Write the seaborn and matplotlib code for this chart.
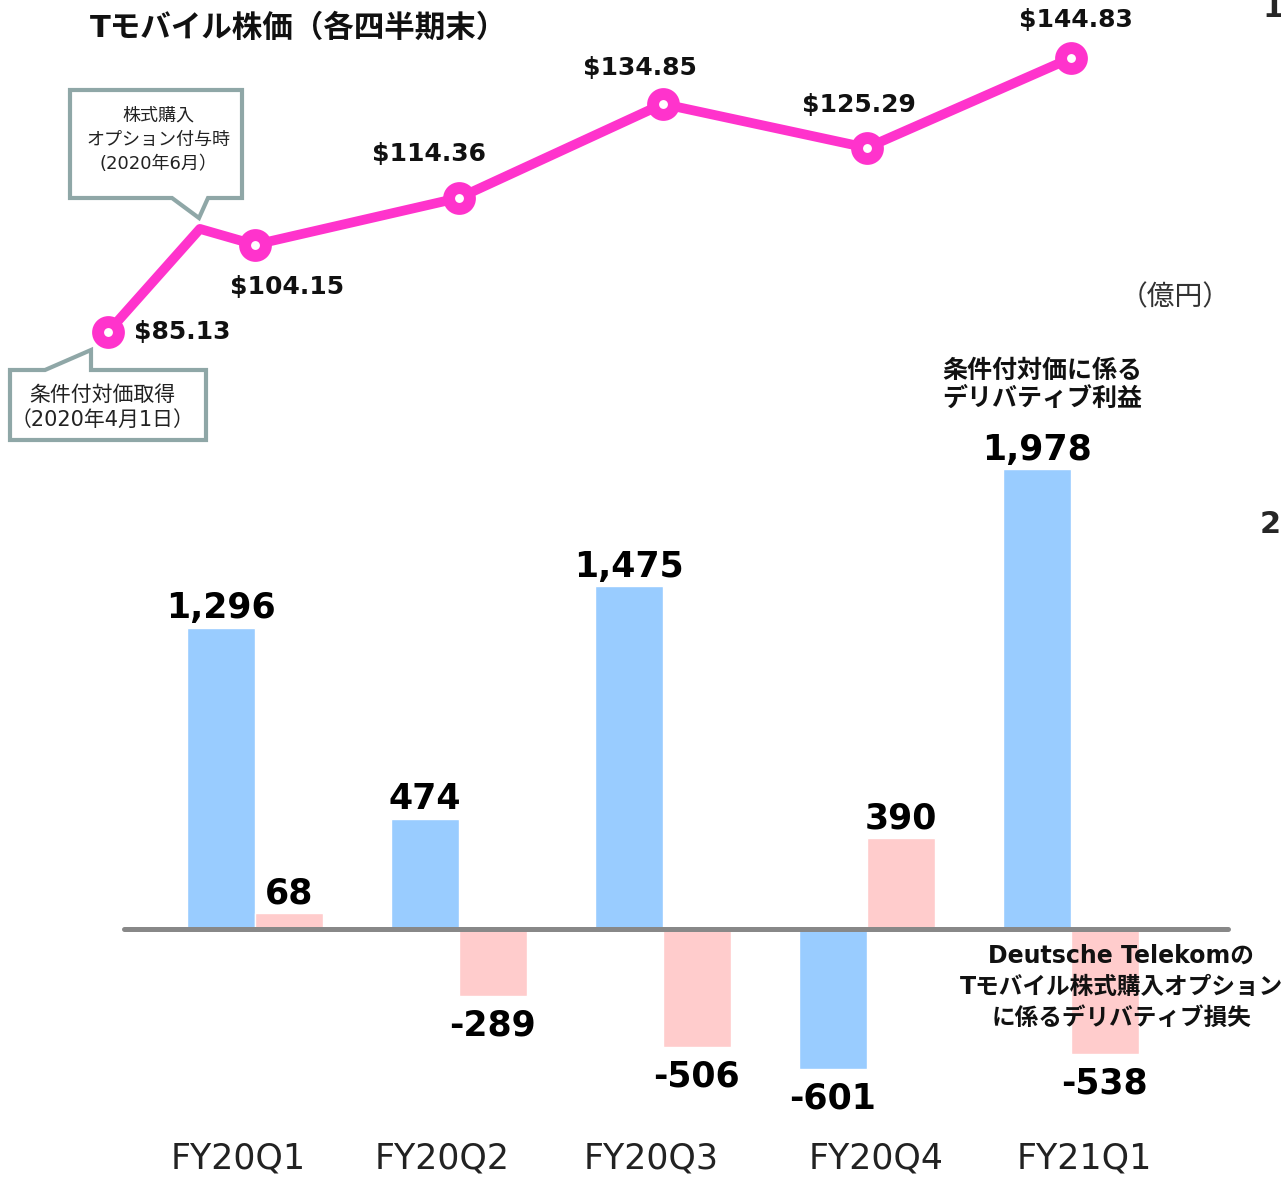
import pandas as pd
import matplotlib.pyplot as plt
import matplotlib.transforms as mtransforms
import seaborn as sns
from matplotlib.patches import Polygon

# Data
quarters = ['FY20Q1', 'FY20Q2', 'FY20Q3', 'FY20Q4', 'FY21Q1']
gain = [1296, 474, 1475, -601, 1978]      # 条件付対価に係るデリバティブ損益
loss = [68, -289, -506, 390, -538]        # DTのTモバイル株式購入オプションに係るデリバティブ損益
price_x = [-0.72, -0.27, 0, 1, 2, 3, 4]   # 2020/4/1, 2020/6, then quarter ends
price = [85.13, 107.6, 104.15, 114.36, 134.85, 125.29, 144.83]
price_labels = ['$85.13', None, '$104.15', '$114.36', '$134.85', '$125.29', '$144.83']

# label placement (pixels from the point) and alignment
label_offsets = [(26, 0), None, (32, -42), (-30, 44), (-23, 36), (-8, 43), (5, 38)]
label_ha = ['left', None, 'center', 'center', 'center', 'center', 'center']
tick_shift = [-17, -17, -12, 9, 13]

BLUE = '#99CCFF'
PINK = '#FFCCCC'
MAGENTA = '#FF33CC'
EDGE = '#8FA7A7'

sns.set_theme(style='white')
plt.rcParams['font.family'] = ['DejaVu Sans', 'Noto Sans CJK JP']

W, H = 1281, 1177
fig = plt.figure(figsize=(W / 100, H / 100), dpi=100)


def px(x, y):
    # top-left pixel -> figure fraction
    return x / W, 1 - y / H


XLIM = (-1.25, 5.03)

# Bars
bar_ax = fig.add_axes([0, (H - 1126.5) / H, 1, 697 / H])
df = pd.DataFrame({
    'quarter': quarters * 2,
    'value': gain + loss,
    'kind': ['gain'] * 5 + ['loss'] * 5,
})
sns.barplot(data=df, x='quarter', y='value', hue='kind', palette=[BLUE, PINK],
            width=0.667, gap=0, legend=False, ax=bar_ax, saturation=1)
for cont in bar_ax.containers:
    vals = cont.datavalues
    bar_ax.bar_label(cont, labels=[f'{v:,.0f}' if v >= 0 else '' for v in vals],
                     fontsize=25, fontweight='bold', padding=2, color='black')
    bar_ax.bar_label(cont, labels=[f'{v:,.0f}' if v < 0 else '' for v in vals],
                     fontsize=25, fontweight='bold', padding=9, color='black')
bar_ax.set_xlim(*XLIM)
bar_ax.set_ylim(-850, 2150)
bar_ax.axhline(0, xmin=124 / W, xmax=1228 / W, color='#888888', lw=3.6, zorder=5)
bar_ax.set_xlabel('')
bar_ax.set_ylabel('')
bar_ax.set_yticks([])
bar_ax.tick_params(axis='x', length=0, labelsize=25, pad=11)
for t, dx in zip(bar_ax.get_xticklabels(), tick_shift):
    t.set_color('#222222')
    t.set_transform(t.get_transform() + mtransforms.Affine2D().translate(dx, 0))
sns.despine(ax=bar_ax, left=True, bottom=True)
bar_ax.patch.set_alpha(0)

# Line
line_ax = fig.add_axes([0, (H - 400) / H, 1, 400 / H])
sns.lineplot(x=price_x, y=price, ax=line_ax, color=MAGENTA, lw=7, zorder=3)
line_ax.plot([price_x[0]] + price_x[2:], [price[0]] + price[2:], ls='none',
             marker='o', ms=15, mfc='white', mec=MAGENTA, mew=8.6, zorder=4)
for x, y, lab, off, ha in zip(price_x, price, price_labels, label_offsets, label_ha):
    if lab is None:
        continue
    line_ax.annotate(lab, (x, y), xytext=off, textcoords='offset pixels',
                     ha=ha, va='center', fontsize=18, fontweight='bold', color='#111111')
line_ax.set_xlim(*XLIM)
line_ax.set_ylim(70.3, 157.5)
line_ax.axis('off')

# Callouts
c1 = [(70, 90), (242, 90), (242, 198), (208, 198), (199, 218), (172, 198), (70, 198)]
c2 = [(10, 370), (45, 370), (91, 350), (91, 370), (206, 370), (206, 440), (10, 440)]
for pts in (c1, c2):
    fig.add_artist(Polygon([px(*p) for p in pts], closed=True, transform=fig.transFigure,
                           fc='white', ec=EDGE, lw=3, joinstyle='miter', zorder=2))
fig.text(*px(158, 140), '株式購入\nオプション付与時\n(2020年6月）', ha='center', va='center',
         fontsize=13, linespacing=1.45, color='#222222', zorder=3)
fig.text(*px(102, 407), '条件付対価取得\n（2020年4月1日）', ha='center', va='center',
         fontsize=15, linespacing=1.3, color='#222222', zorder=3)

# Titles and notes
fig.text(*px(90, 28), 'Tモバイル株価（各四半期末）', ha='left', va='center',
         fontsize=22, fontweight='bold', color='#111111')
fig.text(*px(1175, 297), '（億円）', ha='center', va='center', fontsize=20, color='#333333')
fig.text(*px(1042, 385), '条件付対価に係る\nデリバティブ利益', ha='center', va='center',
         fontsize=18, fontweight='bold', linespacing=1.2, color='#111111')
fig.text(*px(1121, 987), 'Deutsche Telekomの\nTモバイル株式購入オプション\nに係るデリバティブ損失',
         ha='center', va='center', fontsize=17, fontweight='bold', linespacing=1.38,
         color='#111111', zorder=10)
fig.text(*px(1262, 17), '1', ha='left', va='baseline', fontsize=22, fontweight='bold')
fig.text(*px(1260, 533), '2', ha='left', va='baseline', fontsize=22, fontweight='bold')

fig.savefig('out.png', dpi=100)
